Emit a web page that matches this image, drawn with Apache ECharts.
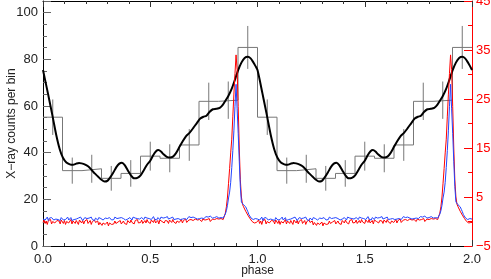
<!DOCTYPE html>
<html>
<head>
<meta charset="utf-8">
<script src="https://cdn.jsdelivr.net/npm/echarts@6/dist/echarts.min.js"></script>
<style>
html,body{margin:0;padding:0;background:#fff;}
#chart{width:491px;height:279px;}
</style>
</head>
<body>
<div id="chart"></div>
<script>
// ---------- data (one phase cycle; the figure repeats it over phase 0-2) ----------
const nCycles = 2;
const binsPerCycle = 11;
const histCounts = [55.2, 32.3, 33.1, 29.0, 31.1, 38.5, 37.6, 43.3, 62.0, 62.5, 85.1];
const histErr    = [7.6, 5.6, 6.0, 5.3, 5.7, 6.2, 6.0, 6.8, 8.0, 8.0, 9.2];

const curvePhase = [0.000,0.023,0.035,0.047,0.062,0.078,0.093,0.109,0.125,0.140,0.155,0.168,0.180,0.194,0.210,0.225,0.241,0.256,0.271,0.287,0.300,0.314,0.328,0.342,0.356,0.368,0.381,0.395,0.410,0.425,0.440,0.455,0.470,0.485,0.500,0.513,0.527,0.538,0.550,0.562,0.577,0.592,0.606,0.620,0.637,0.652,0.668,0.683,0.700,0.718,0.733,0.748,0.762,0.776,0.792,0.808,0.824,0.839,0.852,0.864,0.878,0.892,0.909,0.925,0.940,0.955,0.968,0.980,0.990];
const curveCounts = [75.4,65.4,60.0,54.5,47.5,41.5,37.8,35.8,35.0,34.8,35.3,35.6,35.4,35.0,34.2,32.8,31.1,29.8,28.5,27.6,27.9,29.5,31.5,33.8,35.3,35.7,34.7,32.5,30.3,29.0,29.2,30.3,32.5,34.8,36.5,38.8,40.6,41.1,40.5,39.3,38.2,37.9,38.3,39.8,42.6,45.0,47.2,48.5,50.5,52.8,54.6,55.4,55.8,57.4,58.6,58.8,59.2,60.6,62.5,64.3,67.0,70.5,75.2,78.6,80.6,81.1,80.4,78.8,77.2];

const profileStep = 0.005; // 200 samples per cycle
const redProfile = [
-0.2,0.3,-0.4,0.1,-0.6,0.2,-0.1,0.4,-0.5,0.0,
0.3,-0.3,-0.7,0.2,-0.2,0.1,-0.5,0.3,-0.1,-0.4,
0.2,-0.6,0.0,0.3,-0.3,-0.1,0.4,-0.5,0.1,-0.2,
-0.4,0.2,-0.1,-0.6,0.3,0.0,-0.3,0.2,-0.5,0.1,
-0.2,0.4,-0.4,-0.1,0.2,-0.6,0.0,-0.3,0.3,-0.2,
-0.5,0.1,-0.7,-0.2,0.0,-0.8,-0.3,0.1,-0.6,-0.4,
-0.1,-0.9,-0.3,0.0,-0.6,-0.2,-0.5,0.1,-0.4,-0.7,
-0.1,-0.3,0.2,-0.5,-0.2,0.1,-0.4,0.0,-0.6,0.2,
-0.1,-0.3,0.3,-0.2,0.0,-0.5,0.2,-0.1,0.4,-0.3,
0.1,-0.2,0.3,-0.4,0.0,0.2,-0.3,0.4,-0.1,0.1,
-0.4,0.3,0.0,-0.2,0.4,-0.3,0.1,0.2,-0.5,0.3,
-0.1,0.0,0.4,-0.3,0.2,-0.2,0.1,-0.4,0.3,0.0,
-0.2,0.4,-0.1,0.2,-0.4,0.1,0.3,-0.2,0.0,0.4,
-0.3,0.2,0.0,0.5,-0.2,0.1,0.3,-0.1,0.4,0.0,
0.2,-0.2,0.5,0.1,0.3,-0.1,0.4,0.2,0.0,0.5,
0.1,0.3,-0.1,0.4,0.2,0.6,0.0,0.3,0.5,0.1,
0.4,0.2,0.6,0.3,0.5,0.2,0.6,0.4,
0.4,0.8,1.7,3.0,5.0,7.8,10.8,14.0,16.8,21.5,26.0,30.2,34.0,31.0,23.5,15.0,8.5,5.0,3.5,3.0,2.6,2.1,1.7,1.3,1.0,0.6,0.3,0.0,-0.2,
-0.3,0.1,-0.2
];
const blueProfile = [
0.5,0.8,0.3,0.6,0.9,0.2,0.7,0.4,0.8,0.5,
0.3,0.7,0.5,0.9,0.4,0.6,0.2,0.8,0.5,0.3,
0.7,0.4,0.6,0.9,0.3,0.5,0.8,0.2,0.6,0.4,
0.8,0.5,0.3,0.7,0.4,0.9,0.5,0.2,0.6,0.8,
0.4,0.6,0.3,0.7,0.5,0.9,0.4,0.6,0.2,0.7,
0.5,0.3,0.8,0.4,0.6,0.9,0.3,0.5,0.7,0.4,
0.6,0.2,0.8,0.5,0.3,0.7,0.4,0.9,0.5,0.6,
0.3,0.7,0.5,0.8,0.4,0.6,0.9,0.3,0.7,0.5,
0.4,0.8,0.6,0.3,0.9,0.5,0.7,0.4,0.6,1.0,
0.5,0.3,0.8,0.6,0.4,0.9,0.5,0.7,0.3,0.6,
0.8,0.4,0.6,1.0,0.5,0.7,0.3,0.8,0.6,0.4,
0.9,0.5,0.7,0.4,0.8,0.6,1.0,0.5,0.3,0.7,
0.6,0.9,0.4,0.7,0.5,0.8,0.6,1.0,0.4,0.7,
0.5,0.9,0.6,0.8,0.4,0.7,1.0,0.6,0.8,0.5,
0.9,0.6,0.7,1.0,0.5,0.8,0.6,0.9,0.7,1.1,
0.6,0.8,1.0,0.7,0.9,0.6,1.1,0.8,0.7,1.0,
0.8,0.6,1.0,0.9,0.7,1.1,0.8,0.9,
0.7,1.0,1.5,2.2,3.3,4.8,6.0,8.0,11.0,14.5,18.5,23.5,28.0,23.0,18.0,12.3,7.1,4.0,3.6,3.4,3.2,3.0,2.5,2.0,1.4,1.0,0.7,0.5,0.4,
0.3,0.6,0.4
];

const xTickLabels = ['0.0','0.5','1.0','1.5','2.0'];

// ---------- build series data ----------
const histLine = [], errData = [];
for (let c = 0; c < nCycles; c++) {
  for (let i = 0; i < binsPerCycle; i++) {
    const left = c + i / binsPerCycle;
    histLine.push([left, histCounts[i]]);
    errData.push([left + 0.5 / binsPerCycle, histCounts[i], histErr[i]]);
  }
}
histLine.push([nCycles, histCounts[binsPerCycle - 1]]);

const curveData = [];
for (let c = 0; c < nCycles; c++)
  curvePhase.forEach((p, i) => curveData.push([c + p, curveCounts[i]]));
curveData.push([nCycles, curveCounts[0]]);

const redData = [], blueData = [];
for (let c = 0; c < nCycles; c++) {
  redProfile.forEach((v, i) => redData.push([c + i * profileStep, v]));
  blueProfile.forEach((v, i) => blueData.push([c + i * profileStep, v]));
}
redData.push([nCycles, redProfile[0]]);
blueData.push([nCycles, blueProfile[0]]);

// ---------- chart ----------
const FONT = 'Liberation Sans';
const chart = echarts.init(document.getElementById('chart'), null, {renderer: 'canvas'});
const gridBox = {left: 43, right: 19, top: 1, bottom: 33, containLabel: false, outerBoundsMode: 'none'};
const baseX = {
  type: 'value', min: 0, max: 2, interval: 0.5,
  splitLine: {show: false},
  axisLine: {show: true, onZero: false, lineStyle: {color: '#000', width: 1}},
  axisTick: {show: true, inside: true, length: 6, lineStyle: {color: '#333'}},
  minorTick: {show: true, splitNumber: 5, length: 3, lineStyle: {color: '#333'}},
  minorSplitLine: {show: false}
};
chart.setOption({
  animation: false,
  backgroundColor: '#fff',
  grid: [Object.assign({}, gridBox), Object.assign({}, gridBox)],
  xAxis: [
    Object.assign({}, baseX, {
      position: 'bottom',
      name: 'phase', nameLocation: 'middle', nameGap: 19, nameMoveOverlap: false,
      nameTextStyle: {fontFamily: FONT, fontSize: 12, color: '#222', verticalAlign: 'top'},
      axisLabel: {show: true, margin: 7, fontFamily: FONT, fontSize: 13, color: '#222',
        showMinLabel: true, showMaxLabel: true,
        formatter: v => xTickLabels[Math.round(v / 0.5)] || ''}
    }),
    Object.assign({}, baseX, {position: 'top', axisLabel: {show: false}}),
    {type: 'value', gridIndex: 1, min: 0, max: 2, show: false}
  ],
  yAxis: [
    {
      type: 'value', min: 0, max: 105, interval: 20, position: 'left',
      name: 'X\u2212ray counts per bin', nameLocation: 'middle', nameGap: 25, nameRotate: 90,
      nameMoveOverlap: false,
      nameTextStyle: {fontFamily: FONT, fontSize: 12, color: '#222'},
      splitLine: {show: false},
      axisLine: {show: true, onZero: false, lineStyle: {color: '#000'}},
      axisTick: {show: true, inside: true, length: 8, lineStyle: {color: '#666'}},
      minorTick: {show: true, splitNumber: 4, length: 4, lineStyle: {color: '#666'}},
      axisLabel: {margin: 5, fontFamily: FONT, fontSize: 13, color: '#222', showMinLabel: true, showMaxLabel: false}
    },
    {
      // labelled right axis (short ticks every 5)
      type: 'value', min: -5, max: 45, interval: 5, position: 'right',
      splitLine: {show: false},
      axisLine: {show: true, onZero: false, lineStyle: {color: '#ff0000'}},
      axisTick: {show: true, inside: true, length: 4, lineStyle: {color: '#ff0000'}},
      minorTick: {show: false},
      axisLabel: {margin: 4, fontFamily: FONT, fontSize: 13, color: '#ff0000',
        showMinLabel: true, showMaxLabel: true, hideOverlap: false,
        formatter: v => {
          const r = Math.round(v);
          if (((r + 5) % 10 + 10) % 10 !== 0) return '';
          return r < 0 ? '\u2212' + Math.abs(r) : '' + r;
        }}
    },
    {
      // long ticks every 10 on the right axis (same box, second grid)
      type: 'value', gridIndex: 1, min: -5, max: 45, interval: 10, position: 'right',
      splitLine: {show: false},
      axisLine: {show: false, onZero: false},
      axisTick: {show: true, inside: true, length: 8, lineStyle: {color: '#ff0000'}},
      axisLabel: {show: false}
    }
  ],
  series: [
    {type: 'line', data: histLine, step: 'end', showSymbol: false, xAxisIndex: 0, yAxisIndex: 0,
     lineStyle: {color: '#777', width: 1}, z: 2},
    {type: 'custom', data: errData, xAxisIndex: 0, yAxisIndex: 0, z: 2,
     renderItem: (params, api) => {
       const x = api.value(0), y = api.value(1), e = api.value(2);
       const p1 = api.coord([x, y - e]), p2 = api.coord([x, y + e]);
       return {type: 'line', shape: {x1: p1[0], y1: p1[1], x2: p2[0], y2: p2[1]},
               style: {stroke: '#777', lineWidth: 1}};
     }},
    {type: 'line', data: curveData, smooth: 0.25, showSymbol: false, xAxisIndex: 0, yAxisIndex: 0,
     lineStyle: {color: '#000', width: 2}, z: 3},
    {type: 'line', data: redData, showSymbol: false, xAxisIndex: 0, yAxisIndex: 1,
     lineStyle: {color: '#ff0000', width: 1}, z: 4},
    {type: 'line', data: blueData, showSymbol: false, xAxisIndex: 0, yAxisIndex: 1,
     lineStyle: {color: '#2244ff', width: 1}, z: 5}
  ]
});
</script>
</body>
</html>
